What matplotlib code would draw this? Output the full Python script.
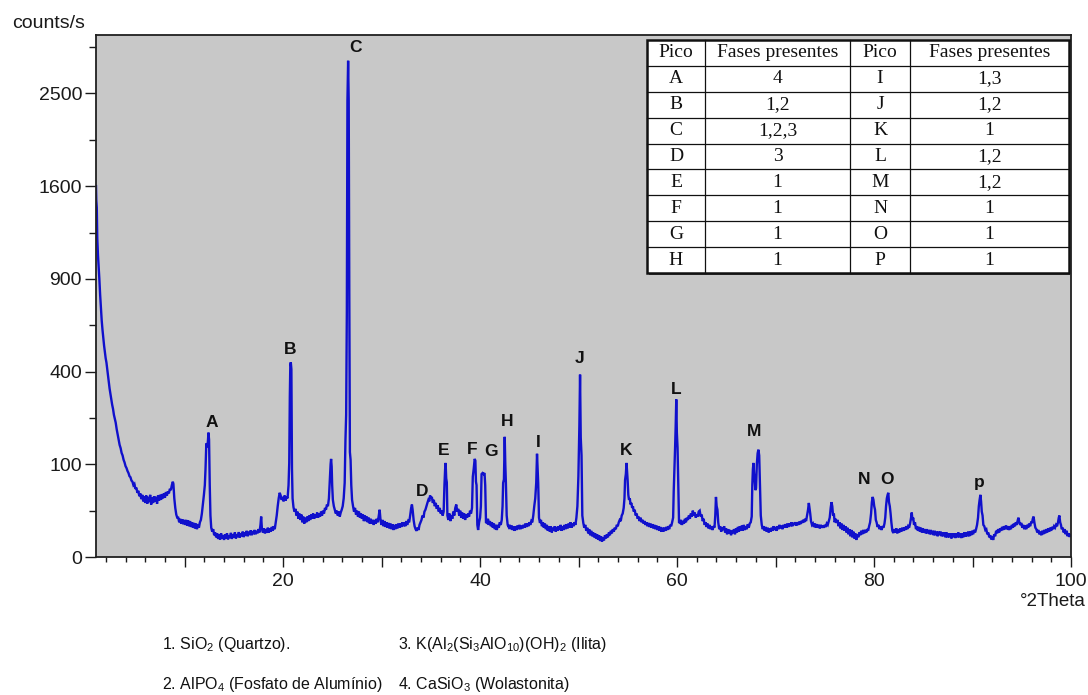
import numpy as np
import matplotlib
matplotlib.use("Agg")
import matplotlib.pyplot as plt
from matplotlib.ticker import FixedLocator, MultipleLocator, FuncFormatter
from matplotlib.patches import Rectangle

# ---------------- data (2theta, counts/s) ----------------
seg_a = [(1.00,1600),(1.03,1480),(1.08,1420),(1.13,1180),(1.20,1060),(1.27,980),(1.34,900),(1.42,800),(1.50,720),
         (1.58,650),(1.66,600),(1.74,560),(1.82,520),(1.90,490),(1.98,460),(2.06,440),(2.14,410),(2.22,380),(2.30,350),
         (2.38,330),(2.46,312),(2.55,290),(2.64,270),(2.73,255),(2.82,235),(2.91,222),(3.00,210),(3.10,190),(3.20,175),
         (3.30,160),(3.40,146),(3.50,138),(3.60,126),(3.70,120),(3.80,110),(3.90,104),(4.00,96),(4.10,92),(4.20,86),
         (4.30,82),(4.40,76),(4.50,74),(4.60,68),(4.70,66),(4.80,60),(4.90,62),(5.00,54),(5.10,56),(5.20,48),(5.30,51),
         (5.40,43),(5.50,47),(5.60,39),(5.70,45),(5.80,36),(5.90,43),(6.00,34),(6.10,44),(6.20,33),(6.30,42),(6.40,35),
         (6.50,45),(6.60,32),(6.70,41),(6.80,34),(6.90,43),(7.00,36),(7.10,42),(7.20,33),(7.30,44),(7.40,37),(7.50,45),
         (7.60,38),(7.70,46),(7.80,40),(7.90,47),(8.00,41),(8.10,49),(8.20,44),(8.30,50),(8.40,47),(8.50,54),(8.60,52),
         (8.70,60),(8.80,66),(8.86,62),(8.95,40),(9.05,28),(9.15,21),(9.25,18)]

seg_b = [(9.35,18),(9.45,14),(9.55,17),(9.65,13),(9.75,16.5),(9.85,12.5),(9.95,16),(10.05,12),(10.15,16),(10.25,11.5),
         (10.35,15.5),(10.45,11),(10.55,15),(10.65,10.5),(10.75,14),(10.85,10),(10.95,13.5),(11.05,9.5),(11.15,13),(11.25,9),
         (11.35,12.5),(11.45,10),(11.55,14),(11.65,16),(11.75,22),(11.85,32),(11.95,44),(12.05,60),(12.12,90),(12.20,150),
         (12.28,140),(12.36,155),(12.42,180),(12.48,160),(12.55,60),(12.62,20),(12.70,10),(12.80,7.5),(12.90,9),(13.00,5.5),
         (13.10,7),(13.20,4.5),(13.30,6.5),(13.40,3.8),(13.50,6),(13.60,3.5),(13.70,6.5),(13.80,4),(13.90,5.5),(14.00,3.4),
         (14.10,6),(14.20,4),(14.30,6.5),(14.40,3.6),(14.50,5.5),(14.60,4.2),(14.70,6.8),(14.80,3.8),(14.90,6),(15.00,4.5),
         (15.10,7),(15.20,4),(15.30,6),(15.40,4.6),(15.50,7.2),(15.60,4.4),(15.70,6.5),(15.80,5),(15.90,7.5),(16.00,4.6),
         (16.10,7),(16.20,5.2),(16.30,8),(16.40,5),(16.50,7.5),(16.60,5.6),(16.70,8.2),(16.80,5.5),(16.90,7.8),(17.00,6),
         (17.10,8.5),(17.20,6),(17.30,8),(17.40,6.5),(17.50,9),(17.60,7),(17.70,12),(17.77,19),(17.85,9),(17.95,7),
         (18.05,9.5),(18.15,6.5),(18.25,9),(18.35,6.8),(18.45,10),(18.55,7),(18.65,9.5),(18.75,7.5),(18.85,10.5),(18.95,8),
         (19.05,11),(19.15,9),(19.25,14),(19.35,20),(19.45,30),(19.55,40),(19.65,48),(19.75,44),(19.85,38)]

seg_c = [(19.95,42),(20.05,36),(20.15,44),(20.25,37),(20.35,42),(20.45,40),(20.55,60),(20.62,103),(20.68,300),
         (20.73,430),(20.78,441),(20.84,410),(20.90,90),(20.96,40),(21.05,29),(21.15,24),(21.25,27),(21.35,20),(21.45,24),
         (21.55,17),(21.65,22),(21.75,16),(21.85,21),(21.95,14),(22.05,19),(22.15,13),(22.25,18),(22.35,14),(22.45,19),
         (22.55,15),(22.65,20),(22.75,16),(22.85,21),(22.95,17),(23.05,22),(23.15,17),(23.25,21),(23.35,18),(23.45,23),
         (23.55,18),(23.65,22),(23.75,19),(23.85,24),(23.95,20),(24.05,25),(24.15,22),(24.25,28),(24.35,26),(24.45,32),
         (24.55,30),(24.65,40),(24.75,70),(24.82,100),(24.87,112),(24.93,95),(24.98,60),(25.05,38),(25.15,30),(25.25,26),
         (25.35,22),(25.45,25),(25.55,20),(25.65,24),(25.75,19),(25.85,23),(25.95,26),(26.05,30),(26.15,40),(26.25,64),
         (26.33,160),(26.40,235),(26.47,700),(26.53,2420),(26.60,2865),(26.66,2420),(26.72,800),(26.78,128),(26.85,110),
         (26.92,60),(27.00,38)]

seg_d = [(27.10,30),(27.20,24),(27.30,28),(27.40,21),(27.50,25),(27.60,19),(27.70,24),(27.80,18),(27.90,22),(28.00,17),
         (28.10,21),(28.20,15),(28.30,20),(28.40,15),(28.50,19),(28.60,14),(28.70,18),(28.80,13),(28.90,17),(29.00,13),
         (29.10,16),(29.20,12),(29.30,16),(29.40,13),(29.50,17),(29.60,14),(29.70,19),(29.80,26),(29.90,15),(30.00,12),
         (30.10,16),(30.20,11),(30.30,15),(30.40,10.5),(30.50,14),(30.60,10),(30.70,13.5),(30.80,9.5),(30.90,13),(31.00,9),
         (31.10,12.5),(31.20,8.5),(31.30,12),(31.40,9),(31.50,12.5),(31.60,9.5),(31.70,13),(31.80,10),(31.90,13),
         (32.00,10.5),(32.10,14),(32.20,11),(32.30,14),(32.40,11),(32.50,15),(32.60,12),(32.70,15),(32.80,14),(32.90,20),
         (33.00,28),(33.08,32),(33.15,26),(33.25,16),(33.35,11),(33.45,9),(33.55,8),(33.65,10),(33.75,8.5),(33.85,12),
         (33.95,14)]

seg_e = [(34.05,16),(34.15,20),(34.25,18),(34.35,24),(34.45,26),(34.55,30),(34.65,34),(34.75,38),(34.85,36),(34.92,44),
         (35.00,40),(35.10,42),(35.20,34),(35.30,38),(35.40,30),(35.50,34),(35.60,27),(35.70,31),(35.80,24),(35.90,28),
         (36.00,22),(36.10,25),(36.20,20),(36.30,24),(36.38,60),(36.45,90),(36.50,103),(36.56,72),(36.62,65),(36.68,20),
         (36.78,16),(36.88,22),(36.98,15),(37.08,20),(37.18,17),(37.28,24),(37.38,20),(37.48,28),(37.58,32),(37.68,24),
         (37.78,27),(37.88,20),(37.98,25),(38.08,18),(38.18,23),(38.28,17),(38.38,22),(38.48,16),(38.58,21),(38.68,18),
         (38.78,22),(38.88,19),(38.98,25),(39.08,22),(39.18,28),(39.26,75),(39.35,90),(39.45,112),(39.52,108),(39.58,66),
         (39.64,60),(39.72,12),(39.80,8.5),(39.90,14),(40.00,18),(40.08,30),(40.15,80),(40.25,82),(40.35,80),(40.45,82),
         (40.52,60),(40.60,14),(40.70,13.5),(40.80,17),(40.90,12),(41.00,15),(41.10,11),(41.20,14),(41.30,10),(41.40,13),
         (41.50,9),(41.60,12),(41.70,8.5),(41.80,12),(41.90,10),(42.00,14),(42.10,12),(42.20,16),(42.28,30),(42.34,64),
         (42.42,70),(42.50,168),(42.56,100),(42.62,64),(42.70,20),(42.80,12),(42.90,10.5)]

seg_f = [(43.00,12),(43.10,9),(43.20,11.5),(43.30,8.5),(43.40,11),(43.50,8),(43.60,11),(43.70,8.5),(43.80,11.5),
         (43.90,9),(44.00,12),(44.10,9),(44.20,11.5),(44.30,9.5),(44.40,12),(44.50,10),(44.60,13),(44.70,10.5),(44.80,13),
         (44.90,11),(45.00,14),(45.10,12),(45.20,15),(45.30,14),(45.40,20),(45.50,30),(45.60,40),(45.70,64),(45.78,124),
         (45.84,90),(45.90,64),(45.98,18),(46.08,13.5),(46.18,16),(46.28,11),(46.38,14),(46.48,10),(46.58,13),(46.68,9),
         (46.78,12),(46.88,8),(46.98,11),(47.08,7.5),(47.18,11),(47.28,7),(47.38,10),(47.48,8),(47.58,11),(47.68,7.5),
         (47.78,10.5),(47.88,8),(47.98,11),(48.08,8.5),(48.18,12),(48.28,8),(48.38,11),(48.48,8.5),(48.58,12),(48.68,9),
         (48.78,12.5),(48.88,9.5),(48.98,13),(49.08,10),(49.18,14),(49.28,10),(49.38,13),(49.48,11),(49.58,14),(49.68,12),
         (49.78,18),(49.88,30),(49.98,75),(50.08,200),(50.15,387),(50.22,166),(50.30,120),(50.38,20),(50.48,13.5),
         (50.58,10),(50.68,12),(50.78,8),(50.88,10),(50.98,6.5),(51.08,9),(51.18,5.5),(51.28,8),(51.38,5),(51.48,7),
         (51.58,4.5),(51.68,6.5),(51.78,4),(51.88,6),(51.98,3.5),(52.08,5.5),(52.18,3),(52.28,5),(52.38,2.8),(52.48,4.5),
         (52.58,3.2),(52.68,5.5),(52.78,4),(52.88,6),(52.98,4.5),(53.08,7),(53.18,5.5),(53.28,8),(53.38,6.5),(53.48,9),
         (53.58,7.5),(53.68,10),(53.78,9),(53.88,12),(53.98,11),(54.08,14),(54.18,16),(54.28,15),(54.38,20),(54.48,22),
         (54.58,28),(54.66,40),(54.72,69),(54.80,80),(54.87,103),(54.93,85),(54.98,69),(55.05,45),(55.12,38),(55.20,40),
         (55.28,32),(55.36,34),(55.44,28),(55.52,30),(55.60,24),(55.70,26),(55.80,20),(55.90,22),(56.00,17),(56.10,19),
         (56.20,15),(56.30,18),(56.40,14)]

seg_g = [(56.50,16),(56.60,13),(56.70,15),(56.80,12),(56.90,14),(57.00,11),(57.10,13.5),(57.20,10.5),(57.30,13),
         (57.40,10),(57.50,12.5),(57.60,9.5),(57.70,12),(57.80,9),(57.90,11.5),(58.00,8.5),(58.10,11),(58.20,8),(58.30,10.5),
         (58.40,7.5),(58.50,10),(58.60,7.5),(58.70,10),(58.80,8),(58.90,10.5),(59.00,8.5),(59.10,11),(59.20,9),(59.30,12),
         (59.40,11),(59.50,14),(59.60,18),(59.66,50),(59.72,82),(59.80,139),(59.86,200),(59.92,289),(59.98,180),
         (60.05,139),(60.12,60),(60.20,14),(60.30,13.5),(60.40,16),(60.50,12),(60.60,15),(60.70,13),(60.80,17),(60.90,14),
         (61.00,18),(61.10,16),(61.20,20),(61.30,17),(61.40,22),(61.50,19),(61.60,25),(61.70,20),(61.80,23),(61.90,18),
         (62.00,21),(62.10,19),(62.20,24),(62.30,25),(62.40,19),(62.50,21),(62.60,15),(62.70,17),(62.80,12),(62.90,14),
         (63.00,10.5),(63.10,13),(63.20,9.5),(63.30,12),(63.40,9),(63.50,11),(63.60,8.5),(63.70,11),(63.80,10),(63.88,20),
         (63.95,42),(64.02,30),(64.10,26),(64.18,14),(64.28,9),(64.38,11),(64.48,7.5),(64.58,10),(64.68,8.5),(64.78,11),
         (64.88,7),(64.98,9.5),(65.08,6),(65.18,9),(65.28,6.5),(65.38,8.5),(65.48,5.5),(65.58,8),(65.68,6.7),(65.78,9),
         (65.88,6),(65.98,9.5)]

seg_h = [(66.08,7),(66.18,10.5),(66.28,7.5),(66.38,11),(66.48,8),(66.58,11.5),(66.68,8),(66.78,12),(66.88,8.5),
         (66.98,11),(67.08,9),(67.18,12.5),(67.28,10),(67.38,13),(67.48,14),(67.58,19),(67.64,60),(67.70,90),(67.76,103),
         (67.82,80),(67.88,70),(67.95,52),(68.02,55),(68.10,100),(68.18,125),(68.26,134),(68.34,120),(68.42,60),(68.50,20),
         (68.60,12),(68.70,9),(68.80,11),(68.90,8),(69.00,10.5),(69.10,7.5),(69.20,10),(69.30,7),(69.40,9.5),(69.50,7.5),
         (69.60,10),(69.70,8),(69.80,11),(69.90,8.5),(70.00,10.5),(70.10,8),(70.20,11),(70.30,9),(70.40,12),(70.50,9.5),
         (70.60,11.5),(70.70,9),(70.80,12),(70.90,10),(71.00,12.5),(71.10,10),(71.20,13),(71.30,10.5),(71.40,13),(71.50,11),
         (71.60,14),(71.70,11),(71.80,13.5),(71.90,12),(72.00,14),(72.10,11.5),(72.20,14),(72.30,12),(72.40,14.5),
         (72.50,12.5),(72.60,15),(72.70,13.5),(72.80,16),(72.90,14),(73.00,17),(73.10,15),(73.20,20),(73.30,26),(73.38,34),
         (73.45,28),(73.52,22),(73.60,15),(73.70,12),(73.80,13),(73.90,10.5),(74.00,13),(74.10,10),(74.20,12.5),(74.30,10),
         (74.40,12),(74.50,9.5),(74.60,12),(74.70,10),(74.80,11.5),(74.90,10),(75.00,12),(75.10,10.5),(75.20,13),(75.30,12),
         (75.40,15),(75.50,18),(75.60,28),(75.68,35),(75.76,30),(75.84,20),(75.92,22),(76.00,14),(76.10,17),(76.20,13.5),
         (76.30,16),(76.40,11),(76.50,14),(76.60,9.5),(76.70,13),(76.80,8.5),(76.90,12),(77.00,8),(77.10,11),(77.20,7),
         (77.30,10),(77.40,6),(77.50,9),(77.60,5),(77.70,8.5),(77.80,4.5),(77.90,7.5),(78.00,4),(78.10,6.5),(78.20,3.4),
         (78.30,6),(78.40,4.5),(78.50,7),(78.60,5.5),(78.70,8),(78.80,6),(78.90,8.5)]

seg_i = [(79.00,6.5),(79.10,8.5),(79.20,7),(79.30,9),(79.40,8),(79.50,11),(79.60,14),(79.70,22),(79.78,35),(79.86,42),
         (79.94,38),(80.02,30),(80.10,26),(80.18,16),(80.26,14),(80.36,10.5),(80.46,12),(80.56,9),(80.66,11),(80.76,8.5),
         (80.86,11),(80.96,10),(81.06,13),(81.14,18),(81.22,30),(81.30,40),(81.38,45),(81.45,48),(81.52,35),(81.60,30),
         (81.68,22),(81.76,14),(81.86,8),(81.96,6.7),(82.06,9),(82.16,7),(82.26,9.5),(82.36,6.5),(82.46,9),(82.56,7),
         (82.66,9.5),(82.76,7.5),(82.86,10),(82.96,8),(83.06,10),(83.16,8.5),(83.26,11),(83.36,9),(83.46,11),(83.56,10),
         (83.66,13),(83.76,18),(83.83,23),(83.90,16),(83.98,18),(84.06,12),(84.16,14),(84.26,9),(84.36,11),(84.46,8),
         (84.56,10.5),(84.66,7.5),(84.76,10),(84.86,7),(84.96,9.5),(85.06,7),(85.16,9),(85.26,6.5),(85.36,9),(85.46,6.5),
         (85.56,8.5),(85.66,6),(85.76,8.5),(85.86,6),(85.96,8),(86.06,5.5),(86.16,8),(86.26,5.5),(86.36,7.5),(86.46,5),
         (86.56,7.5),(86.66,5.5),(86.76,7.5),(86.86,5),(86.96,7),(87.06,5),(87.16,7),(87.26,4.5),(87.36,7),(87.46,4.5),
         (87.56,6.5),(87.66,4.5),(87.76,6.5),(87.86,4),(87.96,6.5),(88.06,4.5),(88.16,6.5),(88.26,4.2),(88.36,6.5),
         (88.46,4.5),(88.56,7),(88.66,4.5),(88.76,6.5),(88.86,4.2),(88.96,6.5),(89.06,4.5),(89.16,7),(89.26,4.8),(89.36,7),
         (89.46,5),(89.56,7.5),(89.66,5),(89.76,7.5),(89.86,5.5),(89.96,8),(90.06,6),(90.16,8.5),(90.26,7),(90.36,9),
         (90.46,12),(90.56,18),(90.64,30),(90.72,38),(90.80,45),(90.87,36),(90.94,24),(91.02,20),(91.10,12),(91.20,11),
         (91.30,8.5),(91.40,9),(91.50,6),(91.60,7),(91.70,4.5),(91.80,5.5),(91.90,3.6),(92.00,5),(92.10,3.4),(92.20,6),
         (92.30,5),(92.40,8),(92.50,6.5),(92.60,9),(92.70,7),(92.80,9.5),(92.90,8),(93.00,10.5),(93.10,8.5),(93.20,11),
         (93.30,9),(93.40,11.5),(93.50,9),(93.60,11),(93.70,8.5),(93.80,11),(93.90,9),(94.00,12),(94.10,10),(94.20,13),
         (94.30,11),(94.40,14),(94.50,12),(94.60,16),(94.67,18),(94.75,14),(94.85,12),(94.95,13.5),(95.05,10),(95.15,12),
         (95.25,9),(95.35,11.5),(95.45,9),(95.55,12),(95.65,10),(95.75,13),(95.85,11),(95.95,14),(96.05,14),(96.12,17),
         (96.20,19),(96.28,14),(96.38,10),(96.48,9),(96.58,7),(96.68,8.5),(96.78,6),(96.88,7.5),(96.98,5.5),(97.08,8),
         (97.18,6),(97.28,8.5),(97.38,6.5),(97.48,9),(97.58,7),(97.68,9.5),(97.78,7.5),(97.88,10),(97.98,8),(98.08,10.5),
         (98.18,9),(98.28,11),(98.38,10),(98.48,12),(98.58,11),(98.68,14),(98.76,18),(98.82,20),(98.90,14),(98.98,12),
         (99.06,9),(99.16,10),(99.26,7),(99.36,9),(99.46,6),(99.56,8),(99.66,5),(99.76,6.5),(99.86,4.7),(99.96,6),
         (100.0,5.5)]

# peak labels and the 2theta of the peak they mark
peak_letters = ["A", "B", "C", "D", "E", "F", "G", "H", "I", "J", "K", "L", "M", "N", "O", "p"]
peak_theta = [12.42, 20.78, 26.60, 34.92, 36.50, 39.45, 40.30, 42.50, 45.78, 50.15, 54.87, 59.92, 68.26, 79.86, 81.45, 90.80]

# y axis ticks (square-root scale)
y_major = [0, 100, 400, 900, 1600, 2500]
y_minor = [25, 225, 625, 1225, 2025, 3025]

# table
table_header = ["Pico", "Fases presentes", "Pico", "Fases presentes"]
pico_left = ["A", "B", "C", "D", "E", "F", "G", "H"]
fases_left = ["4", "1,2", "1,2,3", "3", "1", "1", "1", "1"]
pico_right = ["I", "J", "K", "L", "M", "N", "O", "P"]
fases_right = ["1,3", "1,2", "1", "1,2", "1,2", "1", "1", "1"]

# phase legend
phase_lines = [r"1. SiO$_\mathregular{2}$ (Quartzo).",
               r"2. AlPO$_\mathregular{4}$ (Fosfato de Alumínio)",
               r"3. K(Al$_\mathregular{2}$(Si$_\mathregular{3}$AlO$_\mathregular{10}$)(OH)$_\mathregular{2}$ (Ilita)",
               r"4. CaSiO$_\mathregular{3}$ (Wolastonita)"]

# ---------------- figure ----------------
SANS = ["Liberation Sans", "DejaVu Sans"]
SERIF = ["Liberation Serif", "DejaVu Serif"]
plt.rcParams["font.family"] = SANS

W, H = 1088, 695
fig = plt.figure(figsize=(W / 100, H / 100), dpi=100)
fig.patch.set_facecolor("white")
L, R, T, B = 96, 1071, 35, 557
ax = fig.add_axes([L / W, 1 - B / H, (R - L) / W, (B - T) / H])
ax.set_facecolor("#C8C8C8")

pts = seg_a + seg_b + seg_c + seg_d + seg_e + seg_f + seg_g + seg_h + seg_i
theta = np.array([p[0] for p in pts])
counts = np.array([p[1] for p in pts])

ax.plot(theta, counts, color="#1010CC", lw=1.7, solid_joinstyle="miter")

fwd = lambda y: np.sqrt(np.clip(y, 0, None))
inv = lambda y: np.asarray(y) ** 2
ax.set_yscale("function", functions=(fwd, inv))
ax.set_xlim(1.0, 100)
ax.set_ylim(0, 3170)

ax.yaxis.set_major_locator(FixedLocator(y_major))
ax.yaxis.set_major_formatter(FuncFormatter(lambda v, p: f"{int(round(v))}"))
ax.yaxis.set_minor_locator(FixedLocator(y_minor))
ax.xaxis.set_major_locator(MultipleLocator(10))
ax.xaxis.set_minor_locator(MultipleLocator(2))
ax.xaxis.set_major_formatter(FuncFormatter(lambda v, p: f"{int(round(v))}" if int(round(v)) % 20 == 0 else ""))

ax.tick_params(axis="x", which="major", length=7.2, width=1.0, pad=4, labelsize=14, colors="#1a1a1a")
ax.tick_params(axis="x", which="minor", length=3.6, width=1.0, colors="#1a1a1a")
ax.tick_params(axis="y", which="major", length=8, width=1.0, pad=2, labelsize=14, colors="#1a1a1a")
ax.tick_params(axis="y", which="minor", length=5, width=1.0, colors="#1a1a1a")
for s in ax.spines.values():
    s.set_linewidth(1.3)
    s.set_color("#202020")

# peak letters
label_offsets = [(3, 10), (-1, 13), (7, 13), (-8, 4), (-2, 12), (-2, 9), (8, 22), (2, 15),
                 (1, 11), (-1, 16), (0, 12), (0, 10), (-4, 18), (-9, 17), (-1, 13), (-1, 12)]
for letter, th, (dx, dy) in zip(peak_letters, peak_theta, label_offsets):
    win = (theta > th - 0.08) & (theta < th + 0.08)
    yv = counts[win].max()
    ax.annotate(letter, xy=(th, yv), xytext=(dx, dy), textcoords="offset pixels",
                ha="center", va="center", fontsize=12.5, fontweight="bold", color="#111111",
                family=SANS, zorder=4)

# table (axes coordinates)
col_px = [647, 705, 850, 910, 1069]
top_px, bot_px = 40, 273
ax_x = lambda px: (px - L) / (R - L)
ax_y = lambda py: (B - py) / (B - T)
cx = [ax_x(p) for p in col_px]
ty, by = ax_y(top_px), ax_y(bot_px)
nrows = 1 + len(pico_left)
tr = ax.transAxes
ax.add_patch(Rectangle((cx[0] + 2 / 975, by - 2 / 522), cx[-1] - cx[0], ty - by, transform=tr,
                       facecolor="#505050", edgecolor="none", zorder=6, clip_on=False))
ax.add_patch(Rectangle((cx[0], by), cx[-1] - cx[0], ty - by, transform=tr,
                       facecolor="white", edgecolor="#111111", lw=1.8, zorder=7, clip_on=False))
row_h = (ty - by) / nrows
for i in range(1, nrows):
    yy = ty - i * row_h
    ax.plot([cx[0], cx[-1]], [yy, yy], transform=tr, color="#111111", lw=0.9, zorder=8, clip_on=False)
for xx in cx[1:-1]:
    ax.plot([xx, xx], [by, ty], transform=tr, color="#111111", lw=0.9, zorder=8, clip_on=False)
rows = [table_header] + [list(r) for r in zip(pico_left, fases_left, pico_right, fases_right)]
for i, row in enumerate(rows):
    yc = ty - (i + 0.5) * row_h
    for j, txt in enumerate(row):
        xc = (cx[j] + cx[j + 1]) / 2
        ax.text(xc, yc, txt, transform=tr, ha="center", va="center", fontsize=14,
                family=SERIF, color="#111111", zorder=9)

# axis texts
fig.text(12 / W, 1 - 23 / H, "counts/s", ha="left", va="center", fontsize=14, color="#1a1a1a")
fig.text(1086 / W, 1 - 601 / H, "°2Theta", ha="right", va="center", fontsize=13.5, color="#1a1a1a")

# phase legend
leg_pos = [(162, 645), (162, 685), (398, 645), (398, 685)]
for txt, (px, py) in zip(phase_lines, leg_pos):
    fig.text(px / W, 1 - py / H, txt, ha="left", va="center", fontsize=11.5, family=SANS, color="#111111")

fig.savefig("out.png", dpi=100)
